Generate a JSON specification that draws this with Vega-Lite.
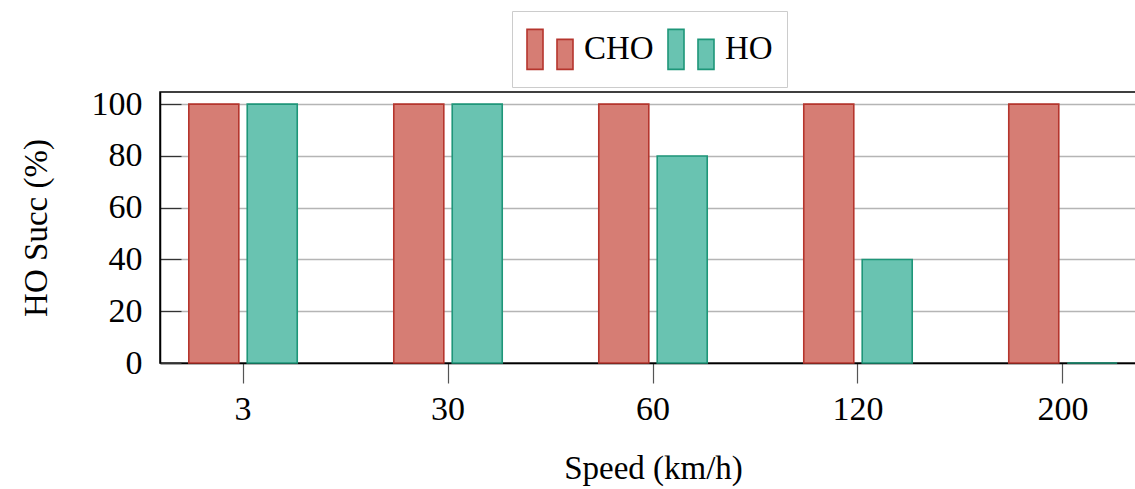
{
  "$schema": "https://vega.github.io/schema/vega-lite/v6.json",
  "autosize": "none",
  "padding": {"left": 160, "top": 92, "right": 0, "bottom": 126},
  "width": 986,
  "height": 271,
  "data": {"values": [
    {"speed": "3", "series": "CHO", "succ": 100},
    {"speed": "3", "series": "HO", "succ": 100},
    {"speed": "30", "series": "CHO", "succ": 100},
    {"speed": "30", "series": "HO", "succ": 100},
    {"speed": "60", "series": "CHO", "succ": 100},
    {"speed": "60", "series": "HO", "succ": 80},
    {"speed": "120", "series": "CHO", "succ": 100},
    {"speed": "120", "series": "HO", "succ": 40},
    {"speed": "200", "series": "CHO", "succ": 100},
    {"speed": "200", "series": "HO", "succ": 0}
  ]},
  "mark": {"type": "bar", "strokeWidth": 1.6, "fillOpacity": 1},
  "encoding": {
    "x": {
      "field": "speed", "type": "nominal", "sort": ["3", "30", "60", "120", "200"],
      "scale": {"paddingInner": 0.471, "paddingOuter": 0.1405},
      "axis": {
        "title": "Speed (km/h)", "labelAngle": 0, "grid": false,
        "tickSize": 20, "tickColor": "#555555", "tickWidth": 1.2,
        "domainColor": "#000000", "domainWidth": 1.5,
        "labelPadding": 9, "titlePadding": 26
      }
    },
    "xOffset": {
      "field": "series", "type": "nominal",
      "scale": {"paddingInner": 0.144, "paddingOuter": 0}
    },
    "y": {
      "field": "succ", "type": "quantitative",
      "scale": {"domain": [0, 104.7], "nice": false},
      "axis": {
        "title": "HO Succ (%)", "values": [0, 20, 40, 60, 80, 100],
        "ticks": true, "tickSize": -21, "tickColor": "#333333", "tickWidth": 1.2,
        "grid": true, "gridColor": "#b5b5b5", "gridWidth": 1.5,
        "domainColor": "#000000", "domainWidth": 1.5,
        "labelPadding": 39, "titlePadding": 38
      }
    },
    "fill": {
      "field": "series", "type": "nominal",
      "scale": {"domain": ["CHO", "HO"], "range": ["#d67d74", "#69c3b1"]},
      "legend": {
        "title": null, "orient": "none", "direction": "horizontal",
        "legendX": 352, "legendY": -81,
        "symbolType": "M-1,-0.87H-0.304V0.87H-1Z M0.304,-0.435H1V0.87H0.304Z",
        "symbolSize": 2116, "symbolStrokeWidth": 1.6, "symbolOpacity": 1,
        "labelFontSize": 33, "labelFont": "Liberation Serif", "labelColor": "#000000",
        "labelExpr": "datum.label == 'HO' ? 'HO\u00a0\u00a0' : datum.label",
        "labelOffset": 10, "columnPadding": 10,
        "padding": 14, "strokeColor": "#cccccc", "fillColor": "#ffffff"
      }
    },
    "stroke": {
      "field": "series", "type": "nominal",
      "scale": {"domain": ["CHO", "HO"], "range": ["#b5352d", "#1e9679"]},
      "legend": null
    }
  },
  "config": {
    "view": {"stroke": "#000000", "strokeWidth": 1.5},
    "axis": {
      "labelFont": "Liberation Serif", "labelFontSize": 34, "labelColor": "#000000",
      "titleFont": "Liberation Serif", "titleFontSize": 33, "titleFontWeight": "normal", "titleColor": "#000000"
    }
  }
}
